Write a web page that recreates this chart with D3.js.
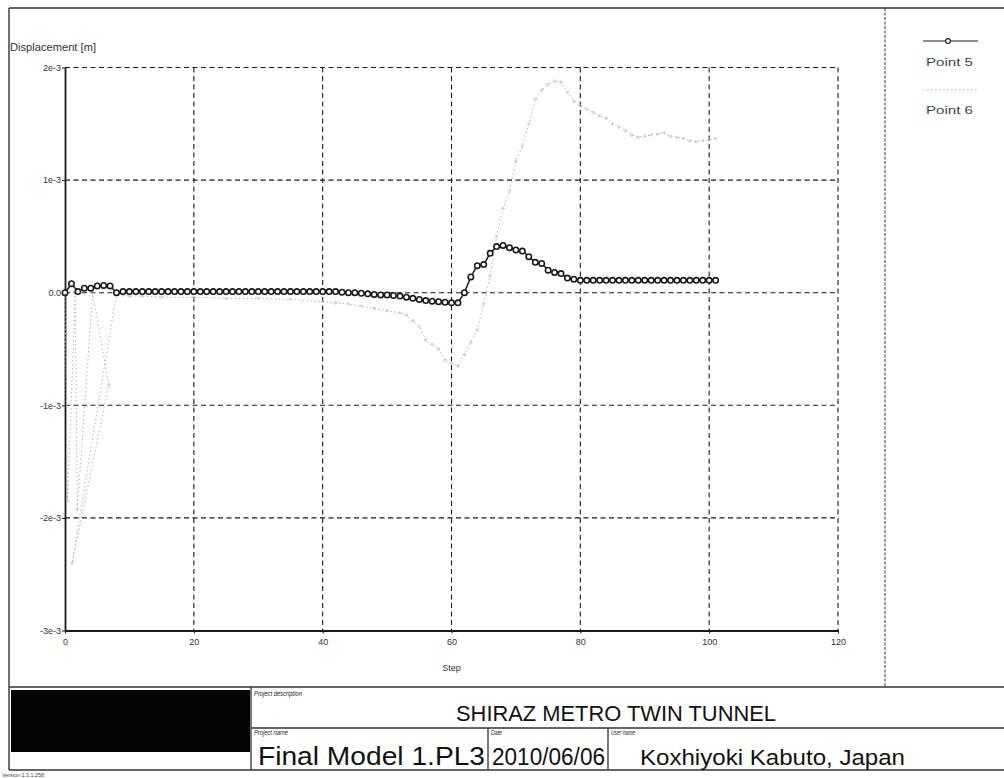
<!DOCTYPE html>
<html>
<head>
<meta charset="utf-8">
<script src="https://cdn.jsdelivr.net/npm/d3@7"></script>
<style>
  html, body { margin: 0; padding: 0; background: #fff; }
  svg { display: block; }
  text { font-family: "Liberation Sans", Arial, sans-serif; }
</style>
</head>
<body>
<svg id="chart" width="1004" height="778"></svg>
<script>
// ---- Data (displacement in units of 1e-3 m) ----
const xTicks = [0, 20, 40, 60, 80, 100, 120];
const xTickLabels = ["0", "20", "40", "60", "80", "100", "120"];
const yTicks = [-3, -2, -1, 0, 1, 2];
const yTickLabels = ["-3e-3", "-2e-3", "-1e-3", "0.0", "1e-3", "2e-3"];

// Point 5: one value per step, steps 0..101
const point5Steps = d3.range(0, 102);
const point5Values = [
  0.00, 0.08, 0.01, 0.04, 0.04, 0.06, 0.065, 0.06, 0.00, 0.01,
  0.01, 0.01, 0.01, 0.01, 0.01, 0.01, 0.01, 0.01, 0.01, 0.01,
  0.01, 0.01, 0.01, 0.01, 0.01, 0.01, 0.01, 0.01, 0.01, 0.01,
  0.01, 0.01, 0.01, 0.01, 0.01, 0.01, 0.01, 0.01, 0.01, 0.01,
  0.01, 0.01, 0.01, 0.005, 0.00, 0.00, -0.005, -0.01, -0.015, -0.02,
  -0.02, -0.025, -0.03, -0.04, -0.05, -0.06, -0.07, -0.075, -0.08, -0.085,
  -0.09, -0.09, 0.00, 0.14, 0.24, 0.25, 0.35, 0.41, 0.42, 0.40,
  0.38, 0.37, 0.32, 0.27, 0.26, 0.20, 0.18, 0.17, 0.13, 0.12,
  0.11, 0.11, 0.11, 0.11, 0.11, 0.11, 0.11, 0.11, 0.11, 0.11,
  0.11, 0.11, 0.11, 0.11, 0.11, 0.11, 0.11, 0.11, 0.11, 0.11,
  0.11, 0.11
];

// Point 6: step / value pairs
const point6Steps = [
  0, 0.4, 1.6, 1.9, 4.3, 6.8, 1.1, 8, 9, 10,
  12, 15, 20, 25, 30, 35, 40, 42, 44, 46,
  48, 50, 52, 53, 54, 55, 56, 57, 58, 59,
  60, 61, 62, 63, 64, 65, 66, 67, 68, 69,
  70, 71, 72, 73, 74, 75, 76, 77, 78, 79,
  80, 81, 82, 83, 84, 85, 86, 87, 88, 89,
  90, 91, 92, 93, 94, 95, 96, 97, 98, 99,
  100, 101
];
const point6Values = [
  0.00, -1.85, 0.00, -1.93, 0.00, -0.82, -2.40, 0.00, -0.02, -0.03,
  -0.03, -0.04, -0.04, -0.05, -0.05, -0.06, -0.08, -0.09, -0.10, -0.12,
  -0.14, -0.16, -0.18, -0.20, -0.25, -0.30, -0.42, -0.46, -0.50, -0.60,
  -0.63, -0.65, -0.55, -0.44, -0.33, -0.10, 0.15, 0.50, 0.75, 0.90,
  1.17, 1.30, 1.50, 1.72, 1.80, 1.85, 1.88, 1.87, 1.78, 1.70,
  1.66, 1.63, 1.60, 1.57, 1.55, 1.50, 1.47, 1.44, 1.40, 1.38,
  1.39, 1.40, 1.41, 1.42, 1.39, 1.38, 1.37, 1.35, 1.34, 1.35,
  1.36, 1.37
];

const seriesNames = ["Point 5", "Point 6"];

// ---- Layout ----
const svg = d3.select("#chart");
const x = d3.scaleLinear().domain([0, 120]).range([65, 838]);
const y = d3.scaleLinear().domain([-3, 2]).range([630.5, 67.5]);
const ink = "#1a1a1a";
const grey = "#b4b4b4";

// Outer frame of the plot sheet
const frame = svg.append("g").attr("stroke", "#333").attr("fill", "none");
frame.append("line").attr("x1", 9).attr("x2", 1004).attr("y1", 8).attr("y2", 8).attr("stroke-width", 1.6);
frame.append("line").attr("x1", 9).attr("x2", 9).attr("y1", 8).attr("y2", 770).attr("stroke-width", 1.4);
frame.append("line").attr("x1", 9).attr("x2", 1004).attr("y1", 687).attr("y2", 687).attr("stroke-width", 1.6);
frame.append("line").attr("x1", 885).attr("x2", 885).attr("y1", 8).attr("y2", 687)
  .attr("stroke-width", 1).attr("stroke-dasharray", "3,1.5");

// Grid
const grid = svg.append("g").attr("stroke", ink).attr("stroke-width", 1.1).attr("stroke-dasharray", "5,3.5");
grid.selectAll("line.v").data(xTicks.filter(d => d > 0)).join("line")
  .attr("x1", d => x(d)).attr("x2", d => x(d))
  .attr("y1", y(2)).attr("y2", y(-3));
grid.selectAll("line.h").data(yTicks.filter(d => d > -3)).join("line")
  .attr("x1", x(0)).attr("x2", x(120))
  .attr("y1", d => y(d)).attr("y2", d => y(d));

// Axes
const xAxis = d3.axisBottom(x).tickValues(xTicks).tickFormat((d, i) => xTickLabels[i]).tickSize(3).tickSizeOuter(0);
const gx = svg.append("g").attr("transform", `translate(0,${y(-3)})`).call(xAxis);
gx.select(".domain").attr("stroke", ink).attr("stroke-width", 2.2);
gx.selectAll(".tick line").attr("stroke", ink);
gx.selectAll(".tick text").attr("font-size", 9).attr("fill", "#333").attr("dy", "0.9em")
  .attr("font-family", "'Liberation Sans', Arial, sans-serif");

const yAxis = d3.axisLeft(y).tickValues(yTicks).tickFormat((d, i) => yTickLabels[i]).tickSize(3).tickSizeOuter(0);
const gy = svg.append("g").attr("transform", `translate(${x(0)},0)`).call(yAxis);
gy.select(".domain").attr("stroke", ink).attr("stroke-width", 1.8);
gy.selectAll(".tick line").attr("stroke", ink);
gy.selectAll(".tick text").attr("font-size", 9).attr("fill", "#333").attr("x", -4)
  .attr("font-family", "'Liberation Sans', Arial, sans-serif");

svg.append("text").attr("x", 10).attr("y", 51).attr("font-size", 10).attr("fill", "#333")
  .attr("textLength", 86).attr("lengthAdjust", "spacingAndGlyphs").text("Displacement [m]");
svg.append("text").attr("x", x(60)).attr("y", 671).attr("text-anchor", "middle")
  .attr("font-size", 9).attr("fill", "#333").text("Step");

// Series
const p5 = point5Steps.map((s, i) => [s, point5Values[i]]);
const p6 = point6Steps.map((s, i) => [s, point6Values[i]]);
const line = d3.line().x(d => x(d[0])).y(d => y(d[1]));

svg.append("path").datum(p6).attr("d", line).attr("fill", "none")
  .attr("stroke", grey).attr("stroke-width", 1).attr("stroke-dasharray", "1.5,2.5");
svg.append("g").selectAll("circle").data(p6).join("circle")
  .attr("cx", d => x(d[0])).attr("cy", d => y(d[1])).attr("r", 1.2)
  .attr("fill", "none").attr("stroke", "#bcbcbc").attr("stroke-width", 0.8);

svg.append("path").datum(p5).attr("d", line).attr("fill", "none")
  .attr("stroke", ink).attr("stroke-width", 1.5);
svg.append("g").selectAll("circle").data(p5).join("circle")
  .attr("cx", d => x(d[0])).attr("cy", d => y(d[1])).attr("r", 2.7)
  .attr("fill", "#fff").attr("stroke", ink).attr("stroke-width", 1.6);

// Legend
const legend = svg.append("g");
legend.append("line").attr("x1", 923).attr("x2", 978).attr("y1", 41).attr("y2", 41)
  .attr("stroke", ink).attr("stroke-width", 1.2);
legend.append("circle").attr("cx", 948).attr("cy", 41).attr("r", 2.4)
  .attr("fill", "#fff").attr("stroke", ink).attr("stroke-width", 1.1);
legend.append("line").attr("x1", 923).attr("x2", 978).attr("y1", 90).attr("y2", 90)
  .attr("stroke", grey).attr("stroke-width", 1).attr("stroke-dasharray", "1.5,2.5");
legend.selectAll("text").data(seriesNames).join("text")
  .attr("x", 926).attr("y", (d, i) => 66 + i * 48)
  .attr("font-size", 10).attr("fill", "#444")
  .attr("textLength", 47).attr("lengthAdjust", "spacingAndGlyphs")
  .text(d => d);

// Title block
const tb = svg.append("g");
tb.append("rect").attr("x", 11).attr("y", 690).attr("width", 239).attr("height", 62).attr("fill", "#050505");
const tbl = tb.append("g").attr("stroke", "#333").attr("stroke-width", 1.3);
tbl.append("line").attr("x1", 9).attr("x2", 1004).attr("y1", 770).attr("y2", 770);
tbl.append("line").attr("x1", 251).attr("x2", 251).attr("y1", 687).attr("y2", 770);
tbl.append("line").attr("x1", 251).attr("x2", 1004).attr("y1", 728).attr("y2", 728);
tbl.append("line").attr("x1", 488).attr("x2", 488).attr("y1", 728).attr("y2", 770);
tbl.append("line").attr("x1", 608).attr("x2", 608).attr("y1", 728).attr("y2", 770);

const small = [
  ["Project description", 254, 696, 48],
  ["Project name", 254, 735, 34],
  ["Date", 491, 735, 11],
  ["User name", 611, 735, 24]
];
tb.selectAll("text.small").data(small).join("text")
  .attr("x", d => d[1]).attr("y", d => d[2]).attr("font-size", 6.5)
  .attr("font-style", "italic").attr("fill", "#222")
  .attr("textLength", d => d[3]).attr("lengthAdjust", "spacingAndGlyphs")
  .text(d => d[0]);

const big = [
  ["SHIRAZ METRO TWIN TUNNEL", 456, 721, 320, 22],
  ["Final Model 1.PL3", 258, 765, 227, 25],
  ["2010/06/06", 492, 765, 113, 23],
  ["Koxhiyoki Kabuto, Japan", 640, 765, 265, 22]
];
tb.selectAll("text.big").data(big).join("text")
  .attr("x", d => d[1]).attr("y", d => d[2]).attr("font-size", d => d[4])
  .attr("fill", "#111")
  .attr("textLength", d => d[3]).attr("lengthAdjust", "spacingAndGlyphs")
  .text(d => d[0]);

svg.append("text").attr("x", 2).attr("y", 776.5).attr("font-size", 6).attr("fill", "#444")
  .attr("textLength", 42).attr("lengthAdjust", "spacingAndGlyphs").text("Version 1.3.1.258");
</script>
</body>
</html>
